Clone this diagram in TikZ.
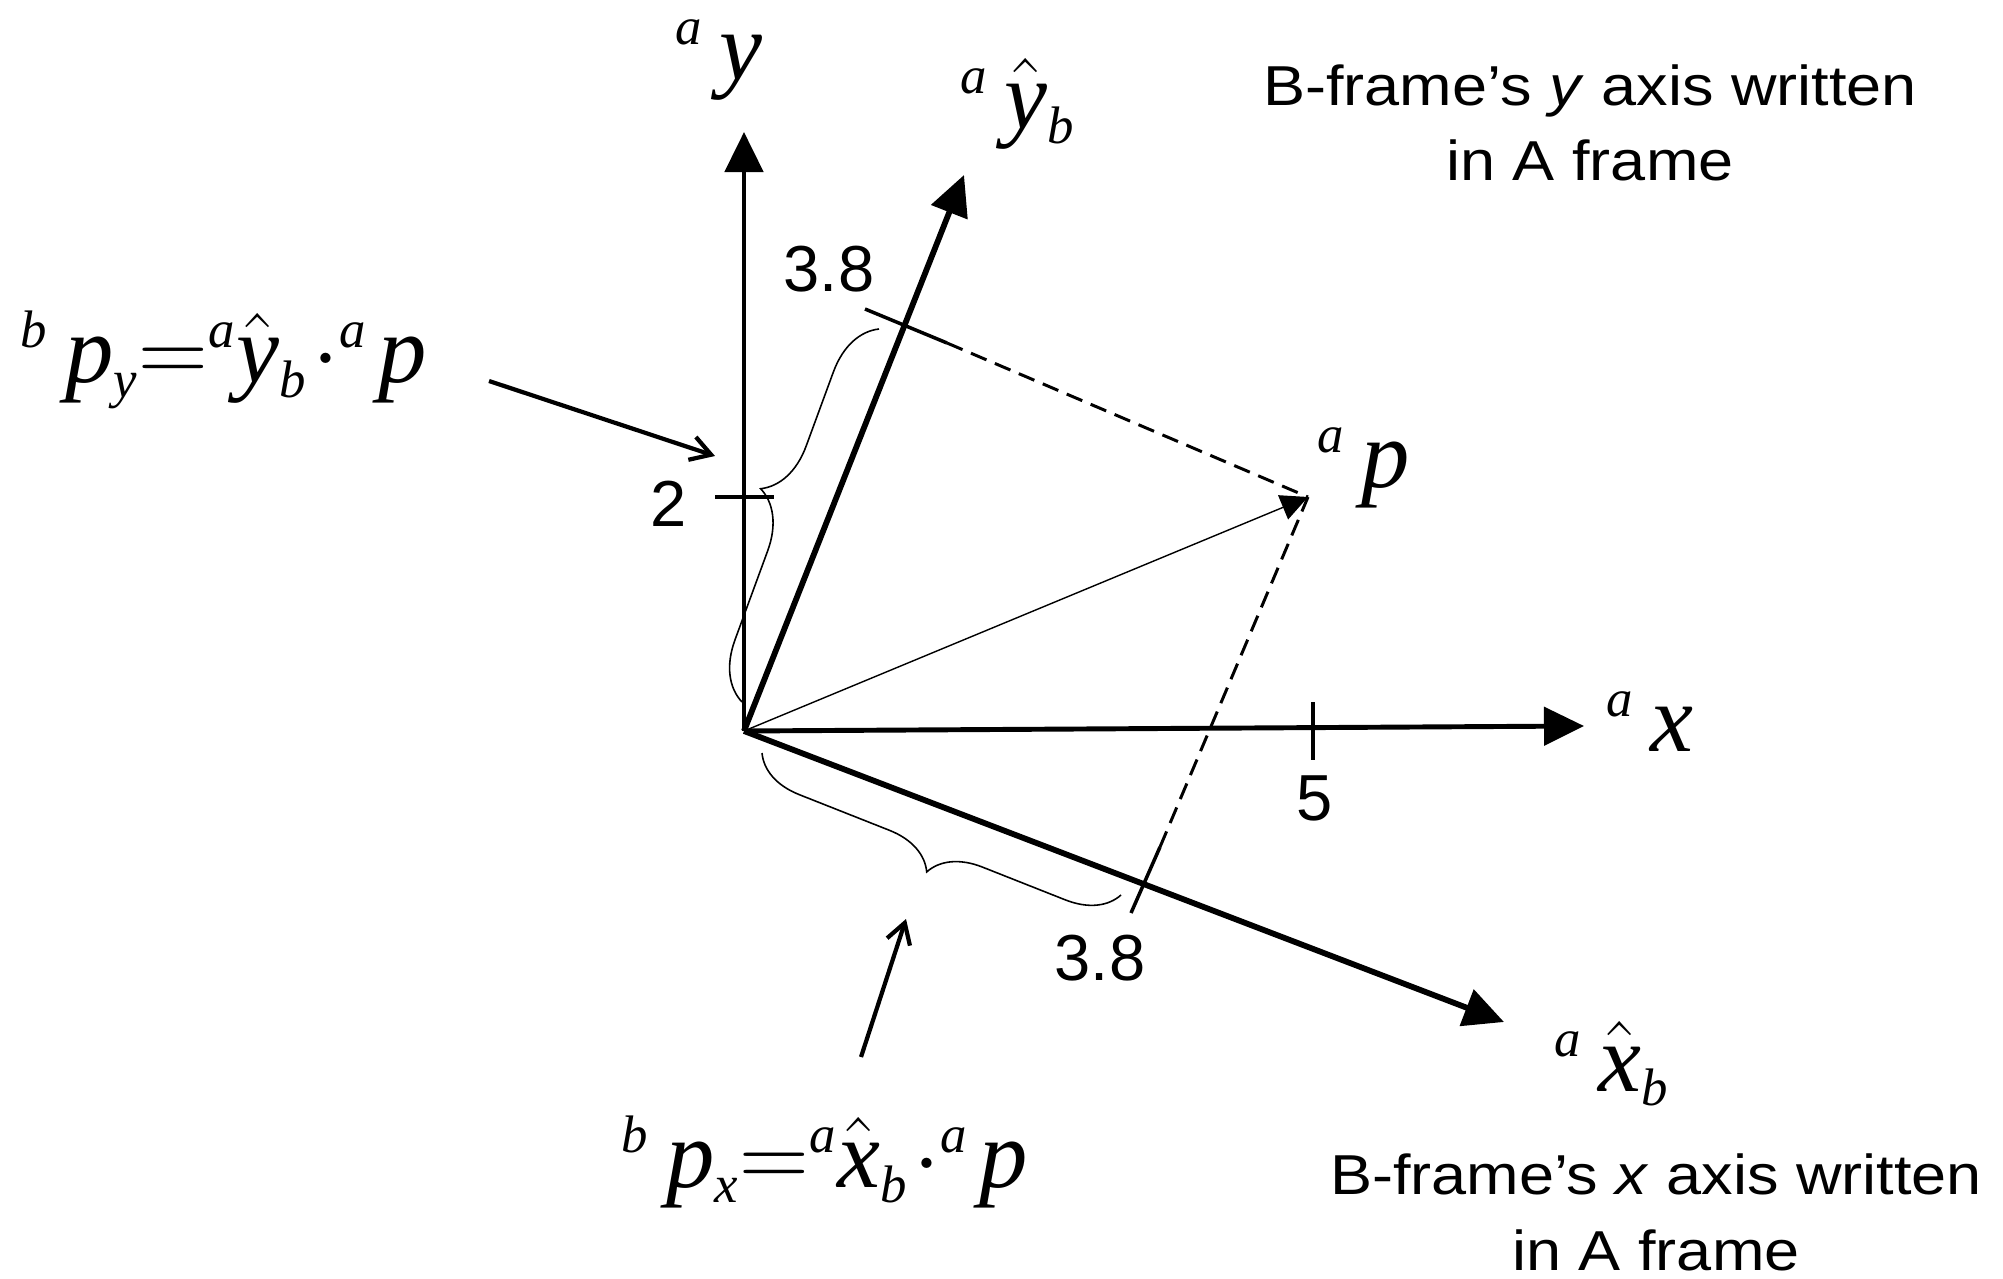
\RequirePackage{fix-cm}
\documentclass[tikz,border=0pt]{standalone}
\usepackage{amsmath}
\usepackage{fontspec}
\newfontfamily\notefont[FakeStretch=1.12]{Liberation Sans}
\newfontfamily\numfont{Liberation Sans}
\newfontfamily\lserif[NFSSFamily=lserif]{Liberation Serif}
\DeclareSymbolFont{lsit}{TU}{lserif}{m}{it}
\DeclareMathSymbol{a}{\mathalpha}{lsit}{`a}
\DeclareMathSymbol{b}{\mathalpha}{lsit}{`b}
\DeclareMathSymbol{p}{\mathalpha}{lsit}{`p}
\DeclareMathSymbol{x}{\mathalpha}{lsit}{`x}
\DeclareMathSymbol{y}{\mathalpha}{lsit}{`y}
\DeclareMathSizes{27.5}{27.5}{15}{11}
\usepackage{tikz}
\usetikzlibrary{arrows.meta,decorations.pathreplacing}

\begin{document}
\begin{tikzpicture}[x=0.01cm,y=0.01cm,
  frameA/.style={line width=1.4pt,-{Triangle[length=0.4cm,width=0.38cm]}},
  frameB/.style={line width=1.65pt,-{Triangle[length=0.4cm,width=0.38cm]}},
  tickmark/.style={line width=1pt},
  proj/.style={line width=0.85pt,dash pattern=on 4.8pt off 2.6pt},
  brc/.style={line width=0.45pt,decorate},
  pointer/.style={line width=1.2pt,-{Straight Barb[length=0.2cm,width=0.24cm]}},
  lbl/.style={inner sep=0pt,font=\fontsize{27.5}{32}\selectfont},
  num/.style={inner sep=0pt,font=\numfont\fontsize{18.5}{22}\selectfont},
  note/.style={inner sep=0pt,align=center,font=\notefont\fontsize{16}{21.6}\selectfont}]
  \useasboundingbox (0,0) rectangle (2003,1278);
  % frames A and B
  \coordinate (O) at (744,547);
  \coordinate (ay) at (744,1146);
  \coordinate (ax) at (1584,552);
  \coordinate (ayb) at (964,1103);
  \coordinate (axb) at (1504,256);
  \coordinate (p) at (1308,781);
  \draw[frameA] (O) -- (ay);
  \draw[frameA] (O) -- (ax);
  \draw[frameB] (O) -- (ayb);
  \draw[frameB] (O) -- (axb);
  \draw[line width=0.4pt,-{Triangle[length=0.27cm,width=0.26cm]}] (O) -- (p);
  % ticks and projections
  \coordinate (t2a) at (715,781);   \coordinate (t2b) at (774,781);
  \coordinate (t5a) at (1313,576);  \coordinate (t5b) at (1313,518);
  \coordinate (fy1) at (865,969);   \coordinate (fy2) at (947,935);
  \coordinate (fx1) at (1131,365);  \coordinate (fx2) at (1160,431);
  \foreach \a/\b in {t2a/t2b,t5a/t5b,fy1/fy2,fx1/fx2}
    \draw[tickmark] (\a) -- (\b);
  \draw[proj] (fy2) -- (p);
  \draw[proj] (fx2) -- (p);
  \node[num] (n2) at (669,774) {2};
  \node[num] (n5) at (1315,480) {5};
  \node[num] (n38y) at (829,1009) {3.8};
  \node[num] (n38x) at (1100,320) {3.8};
  % braces
  \draw[brc,decoration={brace,amplitude=0.56cm,aspect=0.52}] (742,576) -- (879,949);
  \draw[brc,decoration={brace,amplitude=0.5cm,aspect=0.49}] (1121,383) -- (762,525);
  % axis labels
  \node[lbl] (lay) at (719,1218) {${}^{a}\,y$};
  \node[lbl] (layb) at (1018,1174) {${}^{a}\,\hat{y}_{b}$};
  \node[lbl] (lax) at (1650,556) {${}^{a}\,x$};
  \node[lbl] (laxb) at (1612,214) {${}^{a}\,\hat{x}_{b}$};
  \node[lbl] (lap) at (1364,810) {${}^{a}\,p$};
  % dot products
  \node[lbl] (eqy) at (224,918) {${}^{b}\,p_{y}{=}{}^{a}\hat{y}_{b}\mkern1mu{\cdot}{}^{a}\mkern2mu p$};
  \node[lbl] (eqx) at (825,116) {${}^{b}\,p_{x}{=}{}^{a}\hat{x}_{b}\mkern1mu{\cdot}{}^{a}\mkern2mu p$};
  \coordinate (py0) at (489,897);  \coordinate (py1) at (715,822);
  \coordinate (px0) at (861,221);  \coordinate (px1) at (906,359);
  \draw[pointer] (py0) -- (py1);
  \draw[pointer] (px0) -- (px1);
  % notes
  \node[note,anchor=base] (noteyb) at (1590,1097)
    {B-frame’s \textit{y} axis written\\in A frame};
  \node[note,anchor=base] (notexb) at (1656,8)
    {B-frame’s \textit{x} axis written\\in A frame};
\end{tikzpicture}
\end{document}
